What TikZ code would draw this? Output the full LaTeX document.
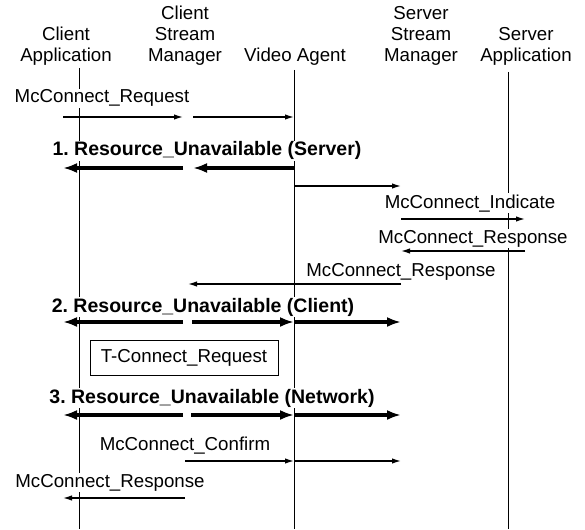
\documentclass[tikz,border=0pt]{standalone}
\usepackage{fontspec}
\setmainfont{Liberation Sans}
\usetikzlibrary{arrows.meta}
\frenchspacing

\begin{document}
\begin{tikzpicture}[x=1pt,y=-1pt,
  font=\fontsize{18.7}{21}\selectfont,
  hd/.style={align=center,anchor=south,inner sep=0pt},
  lb/.style={anchor=base,fill=white,inner sep=1pt},
  bl/.style={lb,font=\fontsize{19.5}{21}\selectfont\bfseries},
  life/.style={line width=0.8pt},
  msg/.style={line width=1.4pt,-{Latex[length=9pt,width=5.5pt]}},
  fat/.style={line width=3.6pt,-{Latex[length=14pt,width=10pt]}}]
  \useasboundingbox (0,0) rectangle (585,529);
  % entites
  \node[hd] (ca) at (66,66) {Client\\Application};
  \node[hd] (csm) at (185,66) {Client\\Stream\\Manager};
  \node[hd] (va) at (295,66) {Video Agent};
  \node[hd] (ssm) at (421,66) {Server\\Stream\\Manager};
  \node[hd] (sa) at (526,66) {Server\\Application};
  % lignes de vie
  \coordinate (xca) at (79,68);
  \coordinate (xcsm) at (187,0);
  \coordinate (xva) at (294,70);
  \coordinate (xssm) at (401,0);
  \coordinate (xsa) at (508,72);
  \foreach \l in {xca,xva,xsa} \draw[life] (\l) -- (\l |- 0,529);
  % messages
  \node[lb] (req) at (102,103) {McConnect\_Request};
  \draw[msg] ([xshift=-16]xca |- 0,117) -- ([xshift=-4]xcsm |- 0,117);
  \draw[msg] ([xshift=6]xcsm |- 0,117) -- (xva |- 0,117);
  \node[bl] (ru1) at (207,156) {1. Resource\_Unavailable (Server)};
  \draw[fat] ([xshift=-4]xcsm |- 0,168) -- ([xshift=-16]xca |- 0,168);
  \draw[fat] (xva |- 0,168) -- ([xshift=6]xcsm |- 0,168);
  \draw[msg] (xva |- 0,186) -- (xssm |- 0,186);
  \node[lb] (ind) at (470,208) {McConnect\_Indicate};
  \draw[msg] (xssm |- 0,219) -- ([xshift=17]xsa |- 0,219);
  \node[lb] (rsp1) at (473,243) {McConnect\_Response};
  \draw[msg] ([xshift=17]xsa |- 0,251) -- (xssm |- 0,251);
  \node[lb] (rsp2) at (401,276) {McConnect\_Response};
  \draw[msg] (xssm |- 0,284) -- ([xshift=1]xcsm |- 0,284);
  \node[bl] (ru2) at (203,312) {2. Resource\_Unavailable (Client)};
  \draw[fat] ([xshift=-4]xcsm |- 0,322) -- ([xshift=-16]xca |- 0,322);
  \draw[fat] ([xshift=5]xcsm |- 0,322) -- (xva |- 0,322);
  \draw[fat] (xva |- 0,322) -- (xssm |- 0,322);
  \node[draw,line width=1pt,minimum width=188,minimum height=35] (tcr) at (184,357.5) {T-Connect\_Request};
  \node[bl] (ru3) at (212,403) {3. Resource\_Unavailable (Network)};
  \draw[fat] ([xshift=-4]xcsm |- 0,415) -- ([xshift=-16]xca |- 0,415);
  \draw[fat] ([xshift=4]xcsm |- 0,415) -- (xva |- 0,415);
  \draw[fat] (xva |- 0,415) -- (xssm |- 0,415);
  \node[lb] (cnf) at (185,450) {McConnect\_Confirm};
  \draw[msg] ([xshift=-2]xcsm |- 0,461) -- (xva |- 0,461);
  \draw[msg] (xva |- 0,461) -- (xssm |- 0,461);
  \node[lb] (rsp3) at (110,487) {McConnect\_Response};
  \draw[msg] ([xshift=-2]xcsm |- 0,498) -- ([xshift=-16]xca |- 0,498);
\end{tikzpicture}
\end{document}
